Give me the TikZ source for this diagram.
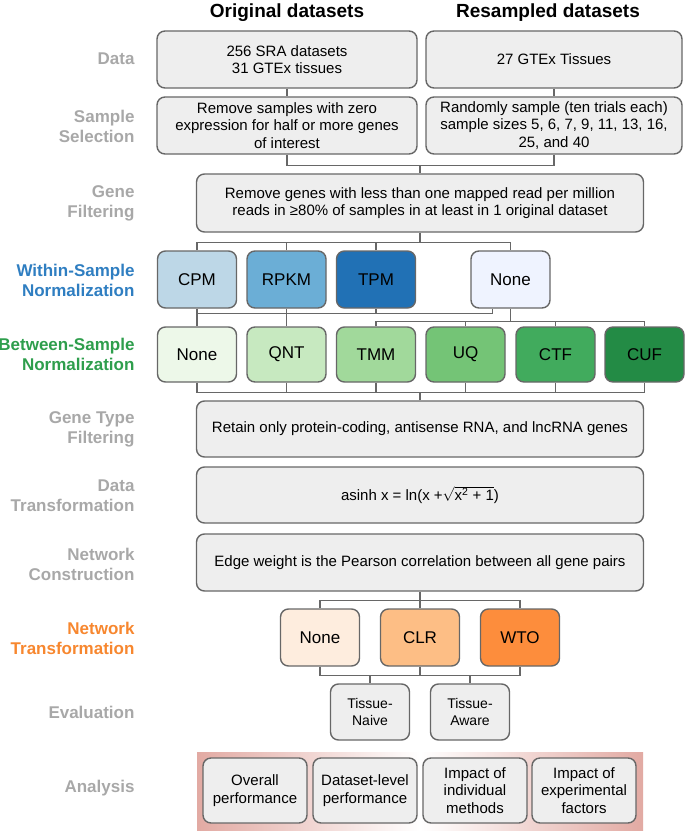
\documentclass[tikz,border=0pt]{standalone}
\usepackage{fontspec}
\setmainfont{Liberation Sans}
\usepackage{tikz}
\usepackage{xcolor}

\definecolor{linegray}{HTML}{676767}
\definecolor{boxgray}{HTML}{EEEEEE}
\definecolor{labgray}{HTML}{A8A8A8}
\definecolor{labblue}{HTML}{2F7EC1}
\definecolor{labgreen}{HTML}{2E9E4C}
\definecolor{laborange}{HTML}{F7872F}
\definecolor{blueA}{HTML}{BDD7E7}
\definecolor{blueB}{HTML}{6BAED6}
\definecolor{blueC}{HTML}{2171B5}
\definecolor{blueD}{HTML}{EFF3FF}
\definecolor{greenA}{HTML}{EDF8E9}
\definecolor{greenB}{HTML}{C7E9C0}
\definecolor{greenC}{HTML}{A1D99B}
\definecolor{greenD}{HTML}{74C476}
\definecolor{greenE}{HTML}{41AB5D}
\definecolor{greenF}{HTML}{238B45}
\definecolor{orangeA}{HTML}{FEEDDE}
\definecolor{orangeB}{HTML}{FDBE85}
\definecolor{orangeC}{HTML}{FD8D3C}
\definecolor{bandpink}{HTML}{E2AAA3}

\begin{document}
\begin{tikzpicture}[x=1pt, y=-1pt,
    box/.style = {shape=rectangle, rounded corners=8pt, draw=linegray,
      line width=1.4pt, fill=boxgray, align=center, inner sep=0pt,
      font=\fontsize{15}{17.5}\selectfont},
    wide/.style = {box, minimum width=447pt, minimum height=57pt},
    meth/.style = {box, minimum width=79pt, minimum height=57pt,
      font=\fontsize{17}{20}\selectfont},
    small/.style = {box, minimum width=79pt, minimum height=56pt,
      font=\fontsize{14}{17}\selectfont},
    lab/.style = {anchor=east, align=right, text=labgray,
      font=\bfseries\fontsize{17}{20}\selectfont},
    head/.style = {font=\bfseries\fontsize{19}{22}\selectfont},
    conn/.style = {draw=linegray, line width=1.4pt}]
  \useasboundingbox (0,0) rectangle (685,832);

  \node[head] (horig) at (287,13) {Original datasets};
  \node[head] (hres) at (548,13) {Resampled datasets};

  \node[lab] (ldata) at (138,59) {Data};
  \node[lab] (lsel) at (138,126) {Sample\\Selection};
  \node[lab] (lgf) at (138,203) {Gene\\Filtering};
  \node[lab, text=labblue] (lwithin) at (138,280) {Within-Sample\\Normalization};
  \node[lab, text=labgreen] (lbetween) at (138,354) {Between-Sample\\Normalization};
  \node[lab] (lgtf) at (138,429) {Gene Type\\Filtering};
  \node[lab] (ldt) at (138,496) {Data\\Transformation};
  \node[lab] (lnc) at (138,564) {Network\\Construction};
  \node[lab, text=laborange] (lnt) at (138,638) {Network\\Transformation};
  \node[lab] (leval) at (138,712) {Evaluation};
  \node[lab] (lana) at (138,788) {Analysis};

  \node[box, minimum width=260pt, minimum height=57pt] (dorig) at (287,59.5)
    {256 SRA datasets\\31 GTEx tissues};
  \node[box, minimum width=256pt, minimum height=57pt] (dres) at (554,59.5)
    {27 GTEx Tissues};
  \node[box, minimum width=260pt, minimum height=57pt] (sorig) at (287,125.5)
    {Remove samples with zero\\expression for half or more genes\\of interest};
  \node[box, minimum width=256pt, minimum height=57pt] (sres) at (554,125.5)
    {Randomly sample (ten trials each)\\sample sizes 5, 6, 7, 9, 11, 13, 16,\\25, and 40};
  \node[wide, minimum height=58pt] (gf) at (420,203)
    {Remove genes with less than one mapped read per million\\reads in ≥80\% of samples in at least in 1 original dataset};

  \node[meth, fill=blueA] (cpm) at (197,279.5) {CPM};
  \node[meth, fill=blueB] (rpkm) at (286.5,279.5) {RPKM};
  \node[meth, fill=blueC] (tpm) at (376,279.5) {TPM};
  \node[meth, fill=blueD] (nonew) at (510.5,279.5) {None};

  \node[meth, minimum height=55pt, fill=greenA] (noneb) at (197,354.5) {None};
  \node[meth, minimum height=55pt, fill=greenB] (qnt) at (286.5,354.5) {QNT};
  \node[meth, minimum height=55pt, fill=greenC] (tmm) at (376,354.5) {TMM};
  \node[meth, minimum height=55pt, fill=greenD] (uq) at (465.5,354.5) {UQ};
  \node[meth, minimum height=55pt, fill=greenE] (ctf) at (555.5,354.5) {CTF};
  \node[meth, minimum height=55pt, fill=greenF] (cuf) at (644.5,354.5) {CUF};

  \node[wide, minimum height=56pt] (gtf) at (420,429)
    {Retain only protein-coding, antisense RNA, and lncRNA genes};
  \node[wide, minimum height=56pt] (dt) at (420,495)
    {asinh x = ln(x +$\sqrt{\mbox{x\textsuperscript{2} + 1}}$)};
  \node[wide] (nc) at (420,562.5)
    {Edge weight is the Pearson correlation between all gene pairs};

  \node[meth, fill=orangeA] (nonen) at (320,637.5) {None};
  \node[meth, fill=orangeB] (clr) at (420,637.5) {CLR};
  \node[meth, fill=orangeC] (wto) at (520,637.5) {WTO};

  \node[small] (naive) at (370,712) {Tissue-\\Naive};
  \node[small] (aware) at (470,712) {Tissue-\\Aware};

  \node[rectangle, minimum width=446pt, minimum height=78pt,
    left color=bandpink, right color=bandpink, middle color=white] (band) at (420,791) {};
  \node[box, minimum width=104pt, minimum height=65pt] (overall) at (255,790.5)
    {Overall\\performance};
  \node[box, minimum width=104pt, minimum height=65pt] (dslevel) at (365,790.5)
    {Dataset-level\\performance};
  \node[box, minimum width=104pt, minimum height=65pt] (indiv) at (475,790.5)
    {Impact of\\individual\\methods};
  \node[box, minimum width=104pt, minimum height=65pt] (factors) at (584,790.5)
    {Impact of\\experimental\\factors};

  \draw[conn] (dorig) -- (sorig);
  \draw[conn] (dres) -- (sres);
  \draw[conn] (sorig.south) -- ++(0,10.5) coordinate (b1) -| (sres.south);
  \draw[conn] (gf.north) -- (gf.north |- b1);

  \draw[conn] (gf.south) -- ++(0,10) coordinate (b2);
  \draw[conn] (cpm.north) |- (b2) -| (nonew.north);
  \foreach \n in {rpkm,tpm}
    \draw[conn] (\n.north) -- (\n.north |- b2);

  \draw[conn] (cpm.south) -- (noneb.north);
  \draw[conn] (rpkm.south) -- (qnt.north);
  \draw[conn] (tpm.south) -- ++(0,5) coordinate (b3);
  \draw[conn] (cpm.south |- b3) -| ([xshift=-18pt]nonew.south);
  \draw[conn] (nonew.south) -- ++(0,13) coordinate (b4);
  \draw[conn] (tmm.north) |- (b4) -| (cuf.north);
  \foreach \n in {uq,ctf}
    \draw[conn] (\n.north) -- (\n.north |- b4);

  \draw[conn] (noneb.south) -- ++(0,9.5) coordinate (b5) -| (cuf.south);
  \foreach \n in {qnt,tmm,uq,ctf}
    \draw[conn] (\n.south) -- (\n.south |- b5);
  \draw[conn] (gtf.north) -- (gtf.north |- b5);

  \draw[conn] (nc.south) -- ++(0,9) coordinate (b6);
  \draw[conn] (nonen.north) |- (b6) -| (wto.north);
  \draw[conn] (clr.north) -- (clr.north |- b6);

  \draw[conn] (nonen.south) -- ++(0,9) coordinate (b7) -| (wto.south);
  \draw[conn] (clr.south) -- (clr.south |- b7);
  \foreach \n in {naive,aware}
    \draw[conn] (\n.north) -- (\n.north |- b7);
\end{tikzpicture}
\end{document}
